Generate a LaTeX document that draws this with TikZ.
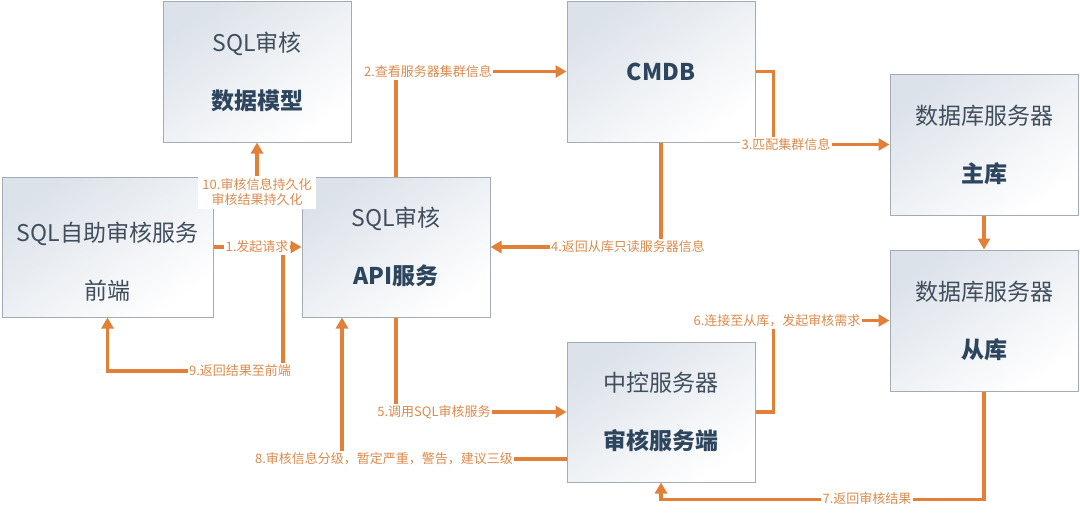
\documentclass[tikz,border=0pt]{standalone}
\usepackage{fontspec}
\setmainfont{Noto Sans CJK SC}
\usepackage{tikz}
\usetikzlibrary{arrows.meta, positioning}
\definecolor{flowline}{HTML}{E2803A}
\definecolor{flowtext}{HTML}{DB8B4E}
\definecolor{boxline}{HTML}{A3ACB4}
\definecolor{boxtop}{HTML}{DCE2EA}
\definecolor{boxtext}{HTML}{414E5C}
\definecolor{boldtext}{HTML}{2D465E}

\begin{document}
\begin{tikzpicture}[
    x=1pt, y=-1pt,
    box/.style={rectangle, draw=boxline, line width=1pt, top color=boxtop, bottom color=white,
                shading angle=35, minimum width=188pt, minimum height=141pt, align=center,
                text=boxtext, font=\fontsize{23}{27}\selectfont},
    flow/.style={draw=flowline, line width=3.2pt, -{Triangle[length=11pt,width=12pt]}},
    lbl/.style={fill=white, text=flowtext, inner sep=1.5pt, align=center,
                font=\fontsize{13}{15}\selectfont}
]
    \fill[white] (0,0) rectangle (1080,515);
    \useasboundingbox (0,0) rectangle (1080,515);

    % Nodes
    \node[box] (model) at (257,71.5) {SQL审核\\[31pt]\textcolor{boldtext}{\bfseries 数据模型}};
    \node[box, minimum width=211pt, minimum height=140pt] (front) at (107.5,247)
        {\rule{0pt}{49pt}SQL自助审核服务\\[31pt]前端};
    \node[box, minimum height=140pt] (api) at (396,247) {SQL审核\\[31pt]\textcolor{boldtext}{\bfseries API服务}};
    \node[box] (cmdb) at (661,71.5) {\textcolor{boldtext}{\bfseries CMDB}};
    \node[box] (master) at (984,144.5) {数据库服务器\\[31pt]\textcolor{boldtext}{\bfseries 主库}};
    \node[box] (slave) at (984,320.5) {数据库服务器\\[31pt]\textcolor{boldtext}{\bfseries 从库}};
    \node[box, minimum height=140pt] (ctrl) at (661,412) {中控服务器\\[31pt]\textcolor{boldtext}{\bfseries 审核服务端}};
    \coordinate (back) at (283,251);

    % Arrows
    \draw[flow] (front.east) -- (api.west);
    \draw[flow] (api.north) |- (cmdb.west);
    \draw[flow] (cmdb.east) -- ++(18,0) |- (master.west);
    \draw[flow] (cmdb.south) |- (api.east);
    \draw[flow] (api.south) |- (ctrl.west);
    \draw[flow] (ctrl.east) -- ++(18,0) |- (slave.west);
    \draw[flow] (slave.south) -- ++(0,108) -| (ctrl.south);
    \draw[flow] ([yshift=-47pt]ctrl.west) -| ([xshift=-54pt]api.south);
    \draw[flow] (back) -- ++(0,120) -| (front.south);
    \draw[flow] (master) -- (slave);

    % Labels
    \node[lbl] (m1) at (257,247) {1.发起请求};
    \node[lbl] (m2) at (428,72) {2.查看服务器集群信息};
    \node[lbl] (m3) at (786,145) {3.匹配集群信息};
    \node[lbl] (m4) at (628,247) {4.返回从库只读服务器信息};
    \node[lbl] (m5) at (434,412) {5.调用SQL审核服务};
    \node[lbl] (m6) at (777,321) {6.连接至从库，发起审核需求};
    \node[lbl] (m7) at (867,499) {7.返回审核结果};
    \node[lbl] (m8) at (384,459) {8.审核信息分级，暂定严重，警告，建议三级};
    \node[lbl] (m9) at (240,371) {9.返回结果至前端};
    \node[lbl, inner xsep=4pt, inner ysep=2.5pt] (m10) at (257,192.5) {10.审核信息持久化\\审核结果持久化};
    \draw[flow] (m10.north) -- (model.south);
\end{tikzpicture}
\end{document}
